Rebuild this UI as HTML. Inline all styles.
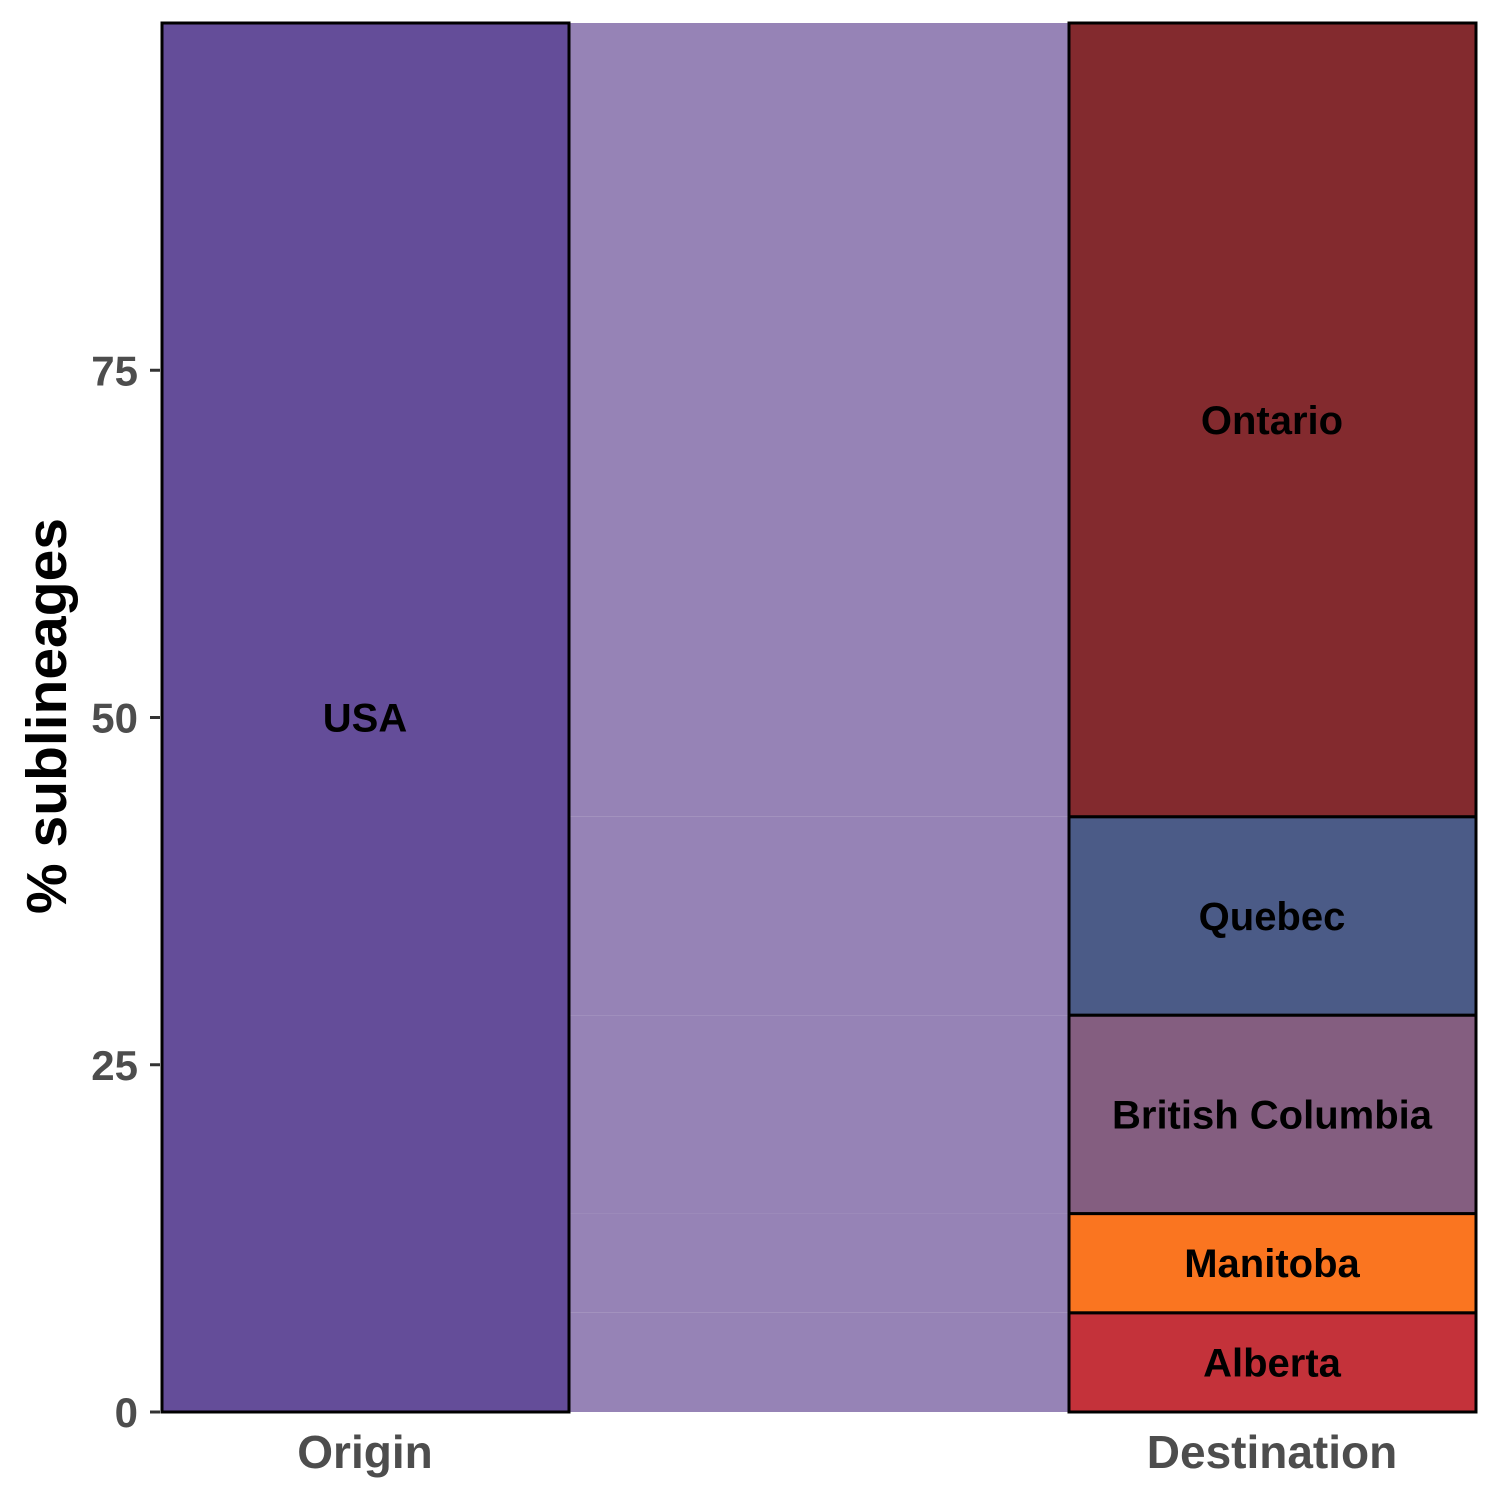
<!DOCTYPE html>
<html><head><meta charset="utf-8"><style>
body{margin:0;background:#fff}
svg{display:block;font-family:"Liberation Sans",Arial,sans-serif;font-weight:bold}
</style></head><body>
<svg width="1500" height="1500" viewBox="0 0 1500 1500">
<g id="plot"></g>
</svg>
<script>
const categories = ["Alberta","Manitoba","British Columbia","Quebec","Ontario"];
const values = [1,1,2,2,8];
const colors = ["#c4323a","#fa7520","#845e80","#4b5b87","#832a2e"];
const originLabel = "USA";
const yTicks = [0,25,50,75];
const xLabels = ["Origin","Destination"];

const NS="http://www.w3.org/2000/svg";
const g=document.getElementById('plot');
const y0=1412, pxPerUnit=13.89;
const y=v=>y0-v*pxPerUnit;
const total=values.reduce((a,b)=>a+b,0);
const pct=values.map(v=>v/total*100);
function el(t,a,p){const e=document.createElementNS(NS,t);for(const k in a)e.setAttribute(k,a[k]);(p||g).appendChild(e);return e;}

let cum=0;
pct.forEach((p,i)=>{
  const r=el('rect',{x:569,y:y(cum+p),width:500,height:y(cum)-y(cum+p),fill:'#9683b6'});
  
  
  cum+=p;
});
const o=el('rect',{x:162,y:y(100),width:407,height:y(0)-y(100),fill:'#644d99',stroke:'#000','stroke-width':3});


const ot=el('text',{x:365,y:(y(0)+y(100))/2+14,'text-anchor':'middle','font-size':40,fill:'#000'});
ot.textContent=originLabel;


cum=0;
pct.forEach((p,i)=>{
  const r=el('rect',{x:1069,y:y(cum+p),width:407,height:y(cum)-y(cum+p),fill:colors[i],stroke:'#000','stroke-width':3});
  
  
  const t=el('text',{x:1272,y:(y(cum)+y(cum+p))/2+14,'text-anchor':'middle','font-size':40,fill:'#000'});
  t.textContent=categories[i];
  
  
  cum+=p;
});
yTicks.forEach(v=>{
  const l=el('line',{x1:150,x2:160,y1:y(v),y2:y(v),stroke:'#333','stroke-width':3});
  
  
  const t=el('text',{x:138,y:y(v)+15,'text-anchor':'end','font-size':42,fill:'#4d4d4d'});
  t.textContent=v;
  
  
});
[365,1272].forEach((x,i)=>{
  const t=el('text',{x:x,y:1468,'text-anchor':'middle','font-size':46,fill:'#4d4d4d'});
  t.textContent=xLabels[i];
  
  
});
const yt=el('text',{x:0,y:0,'text-anchor':'middle','font-size':57,fill:'#000',transform:'translate(66,716) rotate(-90)'});
yt.textContent="% sublineages";


</script>
</body></html>
